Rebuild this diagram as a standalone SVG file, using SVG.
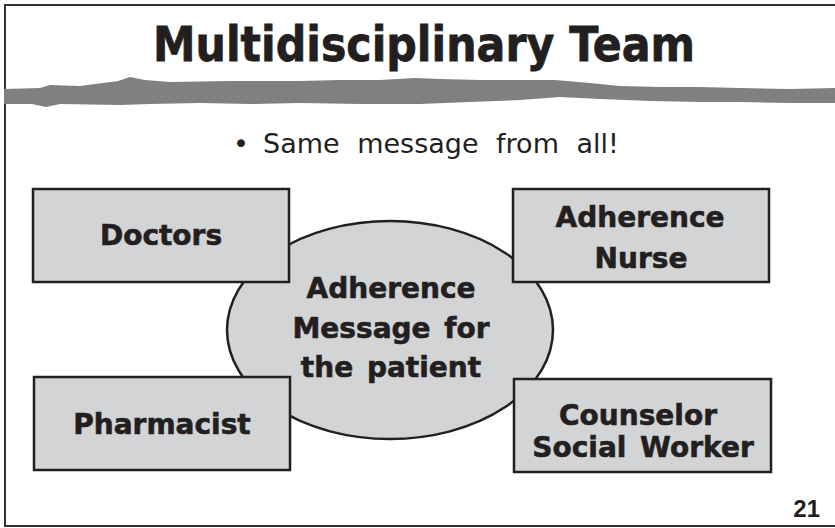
<svg xmlns="http://www.w3.org/2000/svg" width="835" height="528" viewBox="0 0 835 528">
<style>
.box{fill:#d3d4d6;stroke:#231f20;stroke-width:2.5}
.lbl{font-family:"DejaVu Sans",Verdana,sans-serif;font-weight:bold;font-size:28px;fill:#231f20;stroke:#231f20;stroke-width:0.6;text-anchor:middle}
.ttl{font-family:"DejaVu Sans",Verdana,sans-serif;font-weight:bold;font-size:48px;fill:#231f20;stroke:#231f20;stroke-width:0.8;text-anchor:middle}
.sub{font-family:"DejaVu Sans",Verdana,sans-serif;font-size:27px;fill:#231f20}
</style>
<rect x="0" y="0" width="835" height="528" fill="#ffffff"/>
<path d="M840 5 H5 V526 H840" fill="none" stroke="#333333" stroke-width="2"/>
<text class="ttl" x="424" y="61" textLength="542" lengthAdjust="spacingAndGlyphs">Multidisciplinary Team</text>
<path d="M4 89 L40 88 L50 85 L80 86 L118 81 L130 77 L145 80 L170 82 L230 81 L260 81 L300 81 L340 80 L380 80 L415 78 L440 79 L480 80 L520 80 L555 80 L590 83 L620 86 L660 87 L700 87 L740 88 L790 89 L835 88 L835 103 L790 103 L740 102 L700 102 L650 101 L600 99 L560 97 L520 100 L470 102 L420 104 L360 104 L300 103 L250 104 L200 103 L150 104 L120 105 L60 104 L46 107 L32 104 L4 104 Z" fill="#808080"/>
<text class="sub" x="233" y="153">•</text>
<text class="sub" x="263" y="153" word-spacing="9">Same message from all!</text>
<g id="center">
<ellipse cx="390" cy="330" rx="163" ry="109" class="box"/>
<text class="lbl" x="391" y="298">Adherence</text>
<text class="lbl" x="391" y="338" word-spacing="4">Message for</text>
<text class="lbl" x="391" y="377" word-spacing="4">the patient</text>
</g>
<g id="doctors">
<rect x="33" y="189" width="256" height="93" class="box"/>
<text class="lbl" x="161" y="245">Doctors</text>
</g>
<g id="nurse">
<rect x="513" y="189" width="256" height="93" class="box"/>
<text class="lbl" x="640" y="227">Adherence</text>
<text class="lbl" x="641" y="268">Nurse</text>
</g>
<g id="pharmacist">
<rect x="34" y="377" width="256" height="93" class="box"/>
<text class="lbl" x="162" y="434">Pharmacist</text>
</g>
<g id="counselor">
<rect x="514" y="379" width="257" height="93" class="box"/>
<text class="lbl" x="638" y="425">Counselor</text>
<text class="lbl" x="643" y="457" word-spacing="4">Social Worker</text>
</g>
<g id="connectors"></g>
<text x="820" y="517" font-family="Liberation Sans,Arial,sans-serif" font-weight="bold" font-size="24" fill="#231f20" text-anchor="end">21</text>
</svg>
